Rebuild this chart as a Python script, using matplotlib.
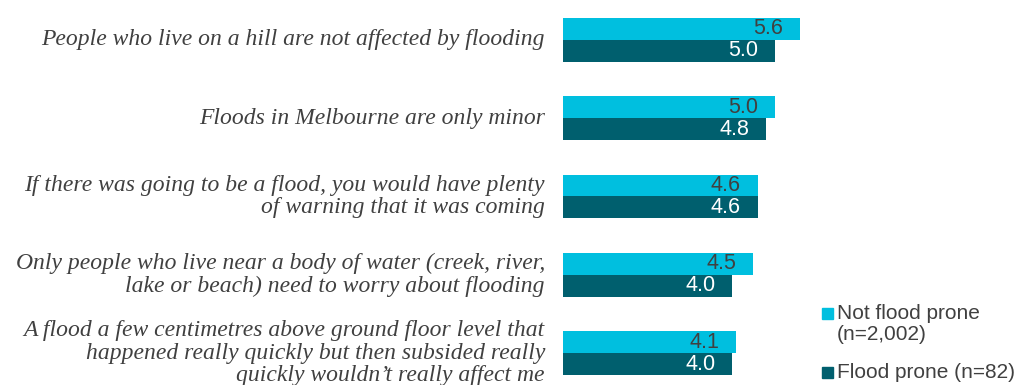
import matplotlib.pyplot as plt
import numpy as np

statements = [
    "People who live on a hill are not affected by flooding",
    "Floods in Melbourne are only minor",
    "If there was going to be a flood, you would have plenty\nof warning that it was coming",
    "Only people who live near a body of water (creek, river,\nlake or beach) need to worry about flooding",
    "A flood a few centimetres above ground floor level that\nhappened really quickly but then subsided really\nquickly wouldn\u2019t really affect me",
]
not_prone = [5.6, 5.0, 4.6, 4.5, 4.1]
prone = [5.0, 4.8, 4.6, 4.0, 4.0]
series_names = ["Not flood prone\n(n=2,002)", "Flood prone (n=82)"]

light = "#00bfdf"
dark = "#005f6e"
grey = "#404040"

fig = plt.figure(figsize=(10.21, 3.85), dpi=100)
W, H = 1021, 385
ax = fig.add_axes([563 / W, 1 - 375 / H, (6 * 42.3) / W, 358 / H])

y = np.arange(len(statements))
h = 0.28
ax.barh(y - h / 2, not_prone, height=h, color=light)
ax.barh(y + h / 2, prone, height=h, color=dark)
ax.set_xlim(0, 6)
ax.set_ylim(len(statements) - 1 + 22 / 78.5, -23 / 78.5)
ax.axis("off")

for i in range(len(statements)):
    ax.annotate(f"{not_prone[i]:.1f}", (not_prone[i], y[i] - h / 2), xytext=(-12, 0),
                textcoords="offset points", ha="right", va="center",
                fontsize=15.5, color=grey, family="Liberation Sans")
    ax.annotate(f"{prone[i]:.1f}", (prone[i], y[i] + h / 2), xytext=(-12, 0),
                textcoords="offset points", ha="right", va="center",
                fontsize=15.5, color="white", family="Liberation Sans")
    ax.annotate(statements[i], (0, y[i]), xytext=(-13, 0), textcoords="offset points",
                ha="right", va="center", multialignment="right",
                fontsize=17, style="italic", color=grey, family="Liberation Serif",
                linespacing=1.07, annotation_clip=False)

# legend drawn by hand on the figure
fig.patches.append(plt.Rectangle((822 / W, 1 - 319 / H), 11 / W, 11 / H,
                                 transform=fig.transFigure, color=light))
fig.text(837 / W, 1 - 324 / H, series_names[0], ha="left", va="center",
         fontsize=15, color=grey, family="Liberation Sans", linespacing=1.1)
fig.patches.append(plt.Rectangle((822 / W, 1 - 378 / H), 11 / W, 11 / H,
                                 transform=fig.transFigure, color=dark))
fig.text(837 / W, 1 - 372 / H, series_names[1], ha="left", va="center",
         fontsize=15, color=grey, family="Liberation Sans")

fig.savefig("out.png", dpi=100)
